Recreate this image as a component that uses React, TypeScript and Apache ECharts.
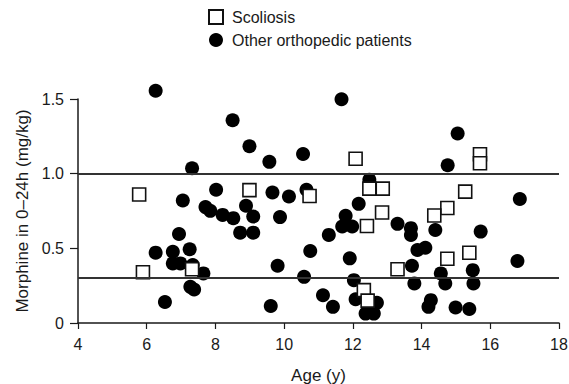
import React, { useEffect, useRef } from "react";
import * as echarts from "echarts";

const scoliosisAge = [5.78, 5.89, 7.32, 8.99, 10.74, 12.08, 12.48, 12.87, 12.85, 12.41, 12.32, 12.43, 15.70, 15.70, 15.27, 14.75, 14.37, 13.30, 14.75, 15.39];
const scoliosisMorphine = [0.86, 0.34, 0.36, 0.89, 0.85, 1.10, 0.90, 0.90, 0.74, 0.65, 0.22, 0.15, 1.13, 1.07, 0.88, 0.77, 0.72, 0.36, 0.43, 0.47];

const otherAge = [6.26, 8.50, 7.32, 8.02, 7.05, 7.71, 7.85, 8.21, 6.94, 6.26, 6.76, 7.25, 6.76, 6.98, 7.34, 7.65, 7.27, 7.38, 6.53,
  11.67, 8.99, 9.57, 10.55, 12.48, 9.66, 10.14, 10.65, 8.89, 8.52, 9.10, 9.88, 8.72, 9.10, 12.17, 11.79, 11.69, 11.98, 11.30, 10.76, 9.81, 11.91, 10.58, 12.03, 11.13, 11.42, 9.61, 12.08, 12.70, 12.37, 12.61,
  15.05, 14.76, 16.86, 13.30, 13.69, 13.69, 14.40, 15.72, 13.88, 14.11, 13.72, 14.56, 14.69, 15.49, 15.51, 13.79, 16.79, 14.27, 14.20, 14.99, 15.39];
const otherMorphine = [1.555, 1.358, 1.036, 0.892, 0.82, 0.776, 0.751, 0.724, 0.596, 0.471, 0.477, 0.494, 0.399, 0.399, 0.388, 0.332, 0.242, 0.224, 0.141,
  1.498, 1.184, 1.079, 1.132, 0.96, 0.874, 0.847, 0.892, 0.785, 0.702, 0.713, 0.709, 0.605, 0.605, 0.798, 0.718, 0.646, 0.646, 0.59, 0.482, 0.383, 0.433, 0.309, 0.287, 0.186, 0.108, 0.114, 0.159, 0.135, 0.063, 0.063,
  1.269, 1.056, 0.83, 0.664, 0.635, 0.59, 0.623, 0.612, 0.489, 0.504, 0.383, 0.332, 0.265, 0.354, 0.265, 0.265, 0.415, 0.153, 0.108, 0.104, 0.094];

const referenceLines = [1.0, 0.3];
const xTicks = { min: 4, max: 18, interval: 2 };
const yTicks = { min: 0, max: 1.5, interval: 0.5 };

const FONT = "Liberation Sans, Arial, sans-serif";
const INK = "#1a1a1a";

export default function App() {
  const ref = useRef<HTMLDivElement>(null);
  useEffect(() => {
    if (!ref.current) return;
    const chart = echarts.init(ref.current, null, { renderer: "svg" });
    const zip = (a: number[], b: number[]) => a.map((v, i) => [v, b[i]]);
    chart.setOption({
      animation: false,
      backgroundColor: "#ffffff",
      textStyle: { fontFamily: FONT, color: INK },
      legend: {
        orient: "vertical",
        left: 203,
        top: 4,
        itemGap: 7,
        itemWidth: 14,
        itemHeight: 14,
        data: ["Scoliosis", "Other orthopedic patients"],
        textStyle: { fontFamily: FONT, fontSize: 16, color: INK, padding: [0, 0, 0, 4] },
      },
      grid: { left: 78, right: 10, top: 99, bottom: 61, containLabel: false, outerBoundsMode: "none" },
      xAxis: {
        type: "value",
        min: xTicks.min,
        max: xTicks.max,
        interval: xTicks.interval,
        name: "Age (y)",
        nameLocation: "middle",
        nameGap: 44,
        nameTextStyle: { fontSize: 17, color: INK, fontFamily: FONT },
        axisLine: { show: true, onZero: false, lineStyle: { color: INK, width: 1.5 } },
        axisTick: { show: true, inside: false, length: 6, lineStyle: { color: INK, width: 1.2 } },
        axisLabel: { fontSize: 16, color: INK, fontFamily: FONT, margin: 13 },
        splitLine: { show: false },
      },
      yAxis: {
        type: "value",
        min: yTicks.min,
        max: yTicks.max,
        interval: yTicks.interval,
        name: "Morphine in 0–24h (mg/kg)",
        nameLocation: "middle",
        nameGap: 47,
        nameTextStyle: { fontSize: 17, color: INK, fontFamily: FONT },
        axisLine: { show: true, onZero: false, lineStyle: { color: INK, width: 1.5 } },
        axisTick: { show: true, inside: false, length: 8, lineStyle: { color: INK, width: 1.2 } },
        axisLabel: {
          fontSize: 16,
          color: INK,
          fontFamily: FONT,
          margin: 14,
          formatter: (v: number) => (v === 0 ? "0" : v.toFixed(1)),
        },
        splitLine: { show: false },
      },
      series: [
        {
          name: "Other orthopedic patients",
          type: "scatter",
          clip: false,
          symbol: "circle",
          symbolSize: 14,
          itemStyle: { color: "#000000", opacity: 1 },
          data: zip(otherAge, otherMorphine),
          markLine: {
            silent: true,
            symbol: "none",
            label: { show: false },
            lineStyle: { color: "#333333", width: 2, type: "solid" },
            data: referenceLines.map((y) => ({ yAxis: y })),
          },
          z: 2,
        },
        {
          name: "Scoliosis",
          type: "scatter",
          clip: false,
          symbol: "rect",
          symbolSize: 13,
          itemStyle: { color: "#ffffff", borderColor: "#111111", borderWidth: 1.6, opacity: 1 },
          data: zip(scoliosisAge, scoliosisMorphine),
          z: 3,
        },
      ],
    });
    return () => chart.dispose();
  }, []);
  return <div ref={ref} style={{ position: "fixed", left: 0, top: 0, width: 569, height: 384 }} />;
}
